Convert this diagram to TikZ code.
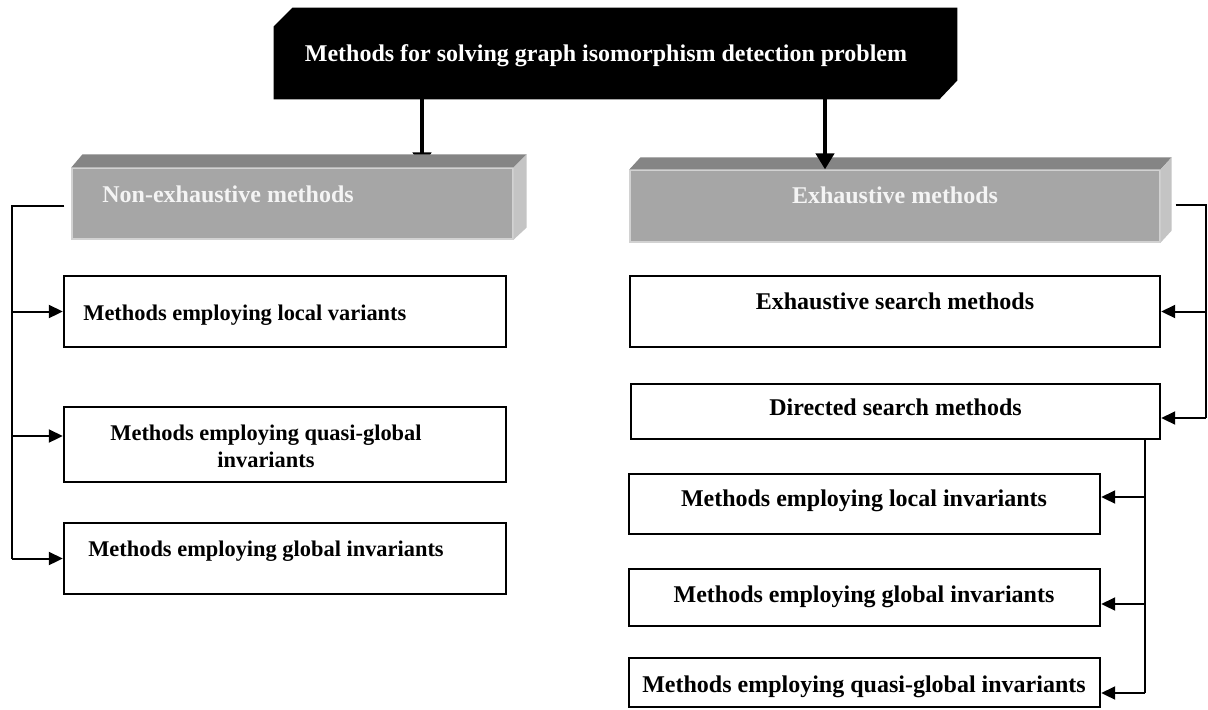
\documentclass[tikz,border=0pt]{standalone}
\usepackage{fontspec}
\setmainfont{Liberation Serif}
\usetikzlibrary{arrows.meta,calc,backgrounds}
\definecolor{gtop}{HTML}{858585}
\definecolor{gfront}{HTML}{A6A6A6}
\definecolor{gside}{HTML}{C4C4C4}
\definecolor{gedge}{HTML}{D2D2D2}
\definecolor{gtext}{HTML}{F4F4F4}
\begin{document}
\begin{tikzpicture}[x=0.5pt,y=-0.5pt,
  wbox/.style={draw=black,line width=1.2pt,fill=white,inner sep=0pt,rectangle},
  gbox/.style={fill=gfront,draw=gedge,line width=0.6pt,inner sep=0pt,rectangle},
  lbl/.style={font=\bfseries\fontsize{12}{14}\selectfont,inner sep=0pt},
  slbl/.style={font=\bfseries\fontsize{11.2}{13.5}\selectfont,inner sep=0pt},
  conn/.style={line width=1pt},
  arr/.style={conn,-{Triangle[length=7pt,width=6.5pt]}},
  bigarr/.style={line width=2pt,-{Triangle[length=8pt,width=9pt]}}
]
\useasboundingbox (0,0) rectangle (1208,709);

% helper coordinates
\coordinate (xL) at (422,0);
\coordinate (xR) at (825,0);
\coordinate (lbus) at (12,0);
\coordinate (rbus) at (1206,0);
\coordinate (dbus) at (1145,0);

% title block
\node[inner sep=0pt,minimum width=341.5pt,minimum height=45.5pt] (title) at (615.5,53.5) {};
\fill[black] (title.south west) -- ($(title.north west)+(0,19)$) -- ($(title.north west)+(19,0)$)
  -- (title.north east) -- ($(title.south east)+(0,-19)$) -- ($(title.south east)+(-18,0)$) -- cycle;
\node[lbl,text=white,anchor=base] (ttitle) at (606,61) {Methods for solving graph isomorphism detection problem};

% gray 3D blocks
\node[gbox,minimum width=220.5pt,minimum height=35.5pt] (nonex) at (292.5,203.5) {};
\fill[gtop] (nonex.north west) -- ++(11,-13) -- ($(nonex.north east)+(13,-13)$) -- (nonex.north east) -- cycle;
\fill[gside] (nonex.north east) -- ++(13,-13) -- ($(nonex.south east)+(13,-12)$) -- (nonex.south east) -- cycle;
\node[lbl,text=gtext,anchor=base west] (tnonex) at (102,202) {Non-exhaustive methods};

\node[gbox,minimum width=265pt,minimum height=36pt] (exh) at (895,206) {};
\fill[gtop] (exh.north west) -- ++(11,-12) -- ($(exh.north east)+(11,-12)$) -- (exh.north east) -- cycle;
\fill[gside] (exh.north east) -- ++(11,-12) -- ($(exh.south east)+(11,-12)$) -- (exh.south east) -- cycle;
\node[lbl,text=gtext,anchor=base] (texh) at (895,203) {Exhaustive methods};

% arrows from title
\begin{scope}[on background layer]
\fill[white] (0,0) rectangle (1208,709);
\draw[bigarr] (title.south -| xL) -- ($(nonex.north -| xL)+(0,1)$);
\end{scope}
\draw[bigarr] (title.south -| xR) -- (exh.north -| xR);

% left boxes
\node[wbox,minimum width=221pt,minimum height=35.5pt] (L1) at (285,311.5) {};
\node[wbox,minimum width=221pt,minimum height=37.5pt] (L2) at (285,444.5) {};
\node[wbox,minimum width=221pt,minimum height=35.5pt] (L3) at (285,558.5) {};
\node[slbl,anchor=base west] (tL1) at (83,320) {Methods employing local variants};
\node[slbl,anchor=base] (tL2a) at (266,440) {Methods employing quasi-global};
\node[slbl,anchor=base] (tL2b) at (266,467) {invariants};
\node[slbl,anchor=base] (tL3) at (266,556) {Methods employing global invariants};

% right boxes
\node[wbox,minimum width=265pt,minimum height=35.5pt] (R1) at (895,311.5) {};
\node[wbox,minimum width=264.5pt,minimum height=27.5pt] (R2) at (895.5,411.5) {};
\node[wbox,minimum width=235.5pt,minimum height=30pt] (R3) at (864.5,504) {};
\node[wbox,minimum width=235.5pt,minimum height=28.5pt] (R4) at (864.5,597.5) {};
\node[wbox,minimum width=235.5pt,minimum height=24.5pt] (R5) at (864.5,682.5) {};
\node[lbl,anchor=base] (tR1) at (895,309) {Exhaustive search methods};
\node[lbl,anchor=base] (tR2) at (895.5,415) {Directed search methods};
\node[lbl,anchor=base] (tR3) at (864,506) {Methods employing local invariants};
\node[lbl,anchor=base] (tR4) at (864,602) {Methods employing global invariants};
\node[lbl,anchor=base] (tR5) at (864,692) {Methods employing quasi-global invariants};

% left connectors
\draw[conn] ($(nonex.west)+(-7,2.5)$) -| (lbus |- L3.west);
\draw[arr] (lbus |- L1.west) -- (L1.west);
\draw[arr] ($(lbus |- L2.west)+(0,-8.5)$) -- ($(L2.west)+(0,-8.5)$);
\draw[arr] (lbus |- L3.west) -- (L3.west);

% right connectors
\draw[conn] ($(exh.east)+(15,-1)$) -| ($(rbus |- R2.east)+(0,6.5)$);
\draw[arr] (rbus |- R1.east) -- (R1.east);
\draw[arr] ($(rbus |- R2.east)+(0,6.5)$) -- ($(R2.east)+(0,6.5)$);

\draw[conn] (R2.south -| dbus) -- ($(dbus |- R5.east)+(0,10.5)$);
\draw[arr] ($(dbus |- R3.east)+(0,-7)$) -- ($(R3.east)+(0,-7)$);
\draw[arr] ($(dbus |- R4.east)+(0,6.5)$) -- ($(R4.east)+(0,6.5)$);
\draw[arr] ($(dbus |- R5.east)+(0,10.5)$) -- ($(R5.east)+(0,10.5)$);
\end{tikzpicture}
\end{document}
